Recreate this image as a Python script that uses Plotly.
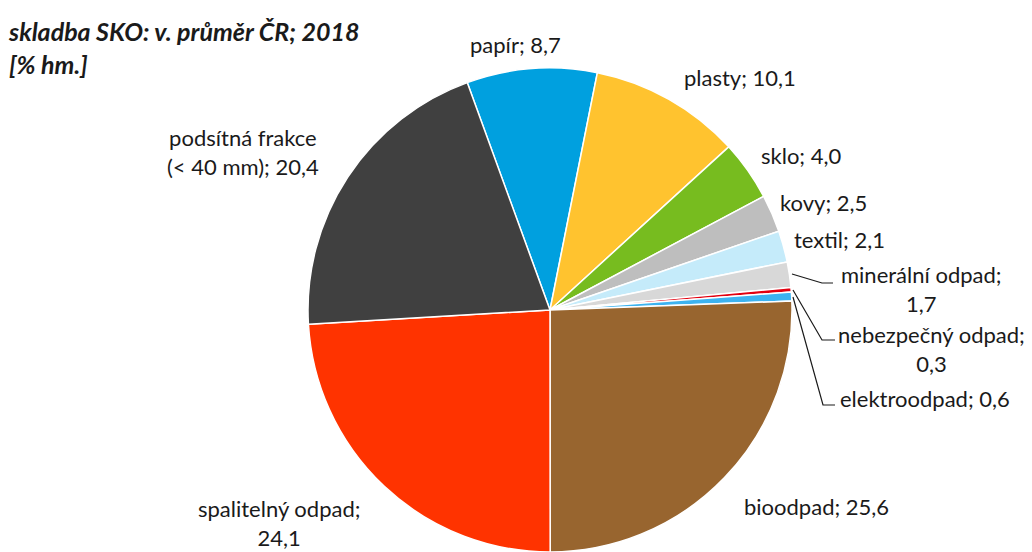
import plotly.graph_objects as go

labels = ["papír", "plasty", "sklo", "kovy", "textil", "minerální odpad",
          "nebezpečný odpad", "elektroodpad", "bioodpad", "spalitelný odpad",
          "podsítná frakce (< 40 mm)"]
values = [8.7, 10.1, 4.0, 2.5, 2.1, 1.7, 0.3, 0.6, 25.6, 24.1, 20.4]
colors = ["#00A0DF", "#FFC32F", "#77BC1F", "#BEBEBE", "#C5EBFA", "#D8D8D8",
          "#E3000F", "#3DB3F0", "#98652F", "#FF3300", "#404040"]
label_text = ["papír; 8,7", "plasty; 10,1", "sklo; 4,0", "kovy; 2,5", "textil; 2,1",
              "minerální odpad;<br>1,7", "nebezpečný odpad;<br>0,3", "elektroodpad; 0,6",
              "bioodpad; 25,6", "spalitelný odpad;<br>24,1", "podsítná frakce<br>(< 40 mm); 20,4"]
title_text = "skladba SKO: v. průměr ČR; 2018<br>[% hm.]"

W, H = 1032, 552
FONT = "Lato"

def px(x, y):
    return x / W, 1 - y / H

fig = go.Figure(go.Pie(
    labels=labels, values=values, sort=False, direction="clockwise", rotation=-20,
    marker=dict(colors=colors, line=dict(color="white", width=1.5)),
    textinfo="none", hoverinfo="label+value", showlegend=False,
    domain=dict(x=[(550 - 243) / W, (550 + 243) / W], y=[0, (552 - 68) / H]),
))

# label positions (pixel centres)
label_pos = [(515, 44), (740, 77), (801, 155), (823, 203), (839, 240),
             (921, 289), (931, 349), (925, 398), (816, 506), (279, 523), (243, 152)]
anns = []
for t, (x, y) in zip(label_text, label_pos):
    xx, yy = px(x, y)
    anns.append(dict(text=t, x=xx, y=yy, xref="paper", yref="paper", showarrow=False,
                     xanchor="center", yanchor="middle", align="center",
                     font=dict(family=FONT, size=22, color="#1a1a1a")))
tx, ty = px(6, 14)
anns.append(dict(text="<b><i>" + title_text + "</i></b>", x=tx, y=ty, xref="paper", yref="paper",
                 showarrow=False, xanchor="left", yanchor="top", align="left",
                 font=dict(family=FONT, size=25, color="#1a1a1a")))

leaders = [[(792, 274), (822, 283), (833, 283)],
           [(793, 290), (822, 340), (835, 340)],
           [(793, 297), (823, 405), (835, 405)]]
shapes = []
for pts in leaders:
    path = ""
    for k, (x, y) in enumerate(pts):
        xx, yy = px(x, y)
        path += ("M" if k == 0 else "L") + f"{xx},{yy} "
    shapes.append(dict(type="path", path=path.strip(), xref="paper", yref="paper",
                       line=dict(color="#1a1a1a", width=1.2)))

fig.update_layout(width=W, height=H, margin=dict(l=0, r=0, t=0, b=0),
                  paper_bgcolor="white", plot_bgcolor="white",
                  annotations=anns, shapes=shapes)
fig.write_html("out.html", config={"displayModeBar": False},
               post_script="document.body.style.margin='0';")
